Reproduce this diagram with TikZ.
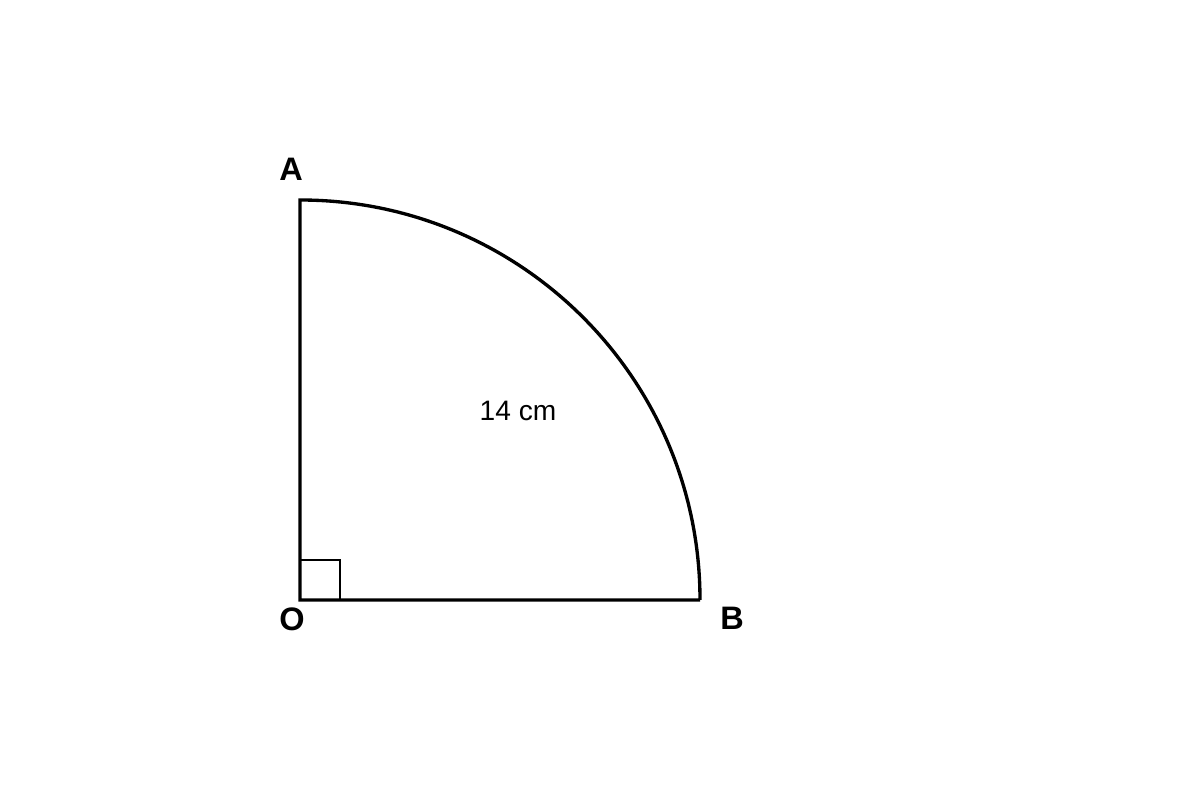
\documentclass[tikz,border=0pt]{standalone}
\usepackage{fontspec}
\setmainfont{Liberation Sans}
\usetikzlibrary{positioning}
\tikzset{lbl/.style={font=\fontsize{18.5}{21}\selectfont\bfseries}}
\begin{document}
\begin{tikzpicture}[x=2cm,y=2cm,edge/.style={line width=1.9pt,line join=miter}]
	\useasboundingbox (-3,-2) rectangle (9,6);
	\coordinate (O) at (0,0);
	\coordinate (A) at (0,4);
	\coordinate (B) at (4,0);
	\node[lbl] (lA) at (-0.09,4.31) {A};
	\node[lbl] (lO) at (-0.08,-0.19) {O};
	\node[lbl] (lB) at (4.32,-0.18) {B};
	\node[font=\fontsize{16}{18}\selectfont] (r) at (2.18,1.89) {14 cm};
	\draw[line width=0.8pt] (0,0.4) -- (0.4,0.4) -- (0.4,0);
	\draw [edge] (B) -- (O) -- (A) arc[start angle=90, end angle=0, radius=4];
\end{tikzpicture}
\end{document}
